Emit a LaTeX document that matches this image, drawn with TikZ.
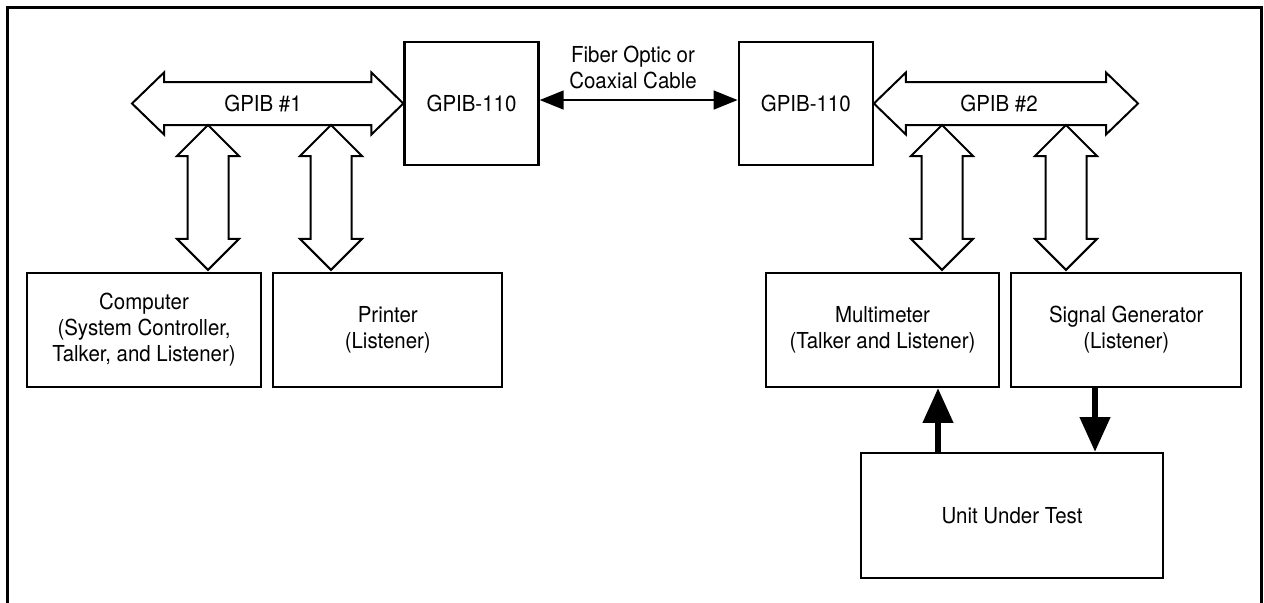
\documentclass[tikz,border=0pt]{standalone}
\usepackage{fontspec}
\setmainfont{TeX Gyre Heros}[FakeStretch=0.93]
\usetikzlibrary{arrows.meta,calc,positioning}

\tikzset{
  box/.style={draw, line width=1.7pt, align=center, inner sep=0pt},
  busline/.style={draw, line width=1.5pt, fill=white, line join=miter},
  note/.style={align=center, inner sep=0pt},
  cable/.style={line width=1.9pt, {Triangle[length=18pt,width=14pt]}-{Triangle[length=18pt,width=14pt]}},
  signal/.style={line width=4.5pt, -{Triangle[length=26pt,width=22pt]}},
}
% wide hollow bus arrows
\newcommand{\hbus}[2]{%
  \draw[busline] (#1) -- ++(32,-31) -- ++(0,9.5) -- ($(#2)+(-32,-21.5)$)
    -- ++(0,-9.5) -- (#2) -- ++(-32,31) -- ++(0,-9.5) -- ($(#1)+(32,21.5)$)
    -- ++(0,9.5) -- cycle;}
\newcommand{\vbus}[2]{%
  \draw[busline] (#1) -- ++(-31,31) -- ++(10.5,0) -- ($(#2)+(-20.5,-33)$)
    -- ++(-10.5,0) -- ($(#2)+(0,-2)$) -- ++(31,-31) -- ++(-10.5,0) -- ($(#1)+(20.5,31)$)
    -- ++(10.5,0) -- cycle;}

\begin{document}
\begin{tikzpicture}[x=0.75pt, y=-0.75pt, font=\fontsize{16.5}{19.5}\selectfont]
  \useasboundingbox (0,0) rectangle (1264,603);
  \draw[line width=2.25pt] (7,603) -- (7,7) -- (1261,7) -- (1261,603);

  \node[box, minimum width=100.5pt, minimum height=92.25pt] (gpiba) at (471.5,103.5) {GPIB-110};
  \node[box, minimum width=100.5pt, minimum height=92.25pt, right=148.5pt of gpiba] (gpibb) {GPIB-110};
  \node[note] (cable) at (633,67) {Fiber Optic or\\Coaxial Cable};
  \draw[cable] ([yshift=2.6pt]gpiba.east) -- ([yshift=2.6pt]gpibb.west);

  \node[box, minimum width=175.5pt, minimum height=85.5pt] (comp) at (144,330)
    {Computer\\(System Controller,\\Talker, and Listener)};
  \node[box, minimum width=171.75pt, minimum height=85.5pt, right=7.5pt of comp] (prn)
    {Printer\\(Listener)};
  \node[box, minimum width=174.75pt, minimum height=85.5pt] (mm) at (882.5,330)
    {Multimeter\\(Talker and Listener)};
  \node[box, minimum width=172.5pt, minimum height=85.5pt, right=7.5pt of mm] (sig)
    {Signal Generator\\(Listener)};
  \node[box, minimum width=226.5pt, minimum height=93.75pt] (uut) at (1012,515.5) {Unit Under Test};

  % buses
  \coordinate (end1) at (132,103.5);
  \coordinate (end2) at (1138,103.5);
  \hbus{end1}{gpiba.west}
  \hbus{gpibb.east}{end2}
  \node[note] (bus1) at (263,103.5) {GPIB \#1};
  \node[note] (bus2) at (999,103.5) {GPIB \#2};

  \coordinate (t1) at (208,125);
  \coordinate (t2) at (331,125);
  \coordinate (t3) at (942,125);
  \coordinate (t4) at (1066,125);
  \vbus{t1}{t1 |- comp.north}
  \vbus{t2}{t2 |- prn.north}
  \vbus{t3}{t3 |- mm.north}
  \vbus{t4}{t4 |- sig.north}

  \coordinate (up) at (938,453);
  \coordinate (dn) at (1095,453);
  \path[signal]
  (up |- uut.north) edge (up |- mm.south)
  (dn |- sig.south) edge (dn |- uut.north);
\end{tikzpicture}
\end{document}
